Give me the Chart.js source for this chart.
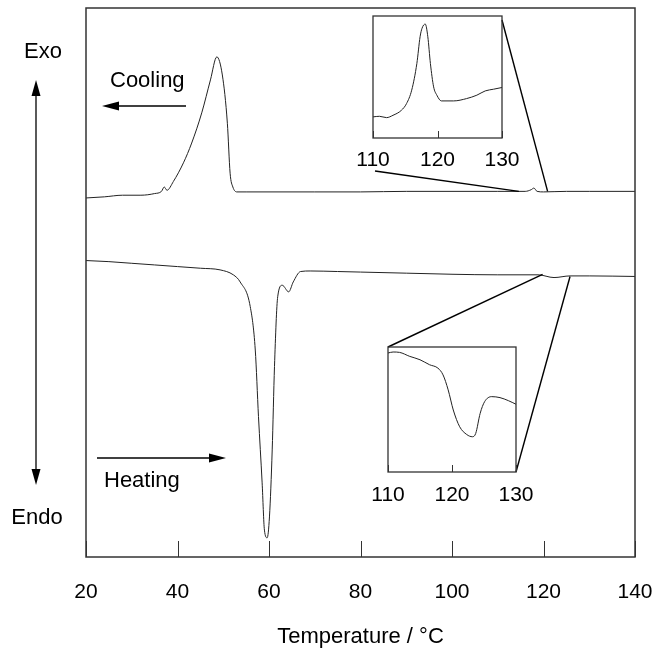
<!DOCTYPE html>
<html>
<head>
<meta charset="utf-8">
<script src="https://cdn.jsdelivr.net/npm/chart.js@4.4.1/dist/chart.umd.min.js"></script>
<style>
  html, body { margin: 0; padding: 0; background: #fff; }
  #wrap { position: relative; width: 656px; height: 656px; }
  canvas { position: absolute; }
</style>
</head>
<body>
<div id="wrap">
  <canvas id="main" width="656" height="656" style="left:0;top:0"></canvas>
  <canvas id="inset-cool" width="200" height="170" style="left:340px;top:10px"></canvas>
  <canvas id="inset-heat" width="200" height="175" style="left:350px;top:340px"></canvas>
</div>
<script>
'use strict';

// ********** data (temperature in °C, heat flow in arbitrary units) **********

let xTicks = [20, 40, 60, 80, 100, 120, 140];
let insetTicks = [110, 120, 130];

let coolTemp = [20, 24, 28, 32, 35, 36.5, 37.1, 37.7, 39.1, 41.3, 43.1, 45.3, 47.2, 48.6, 49.8, 50.9, 51.5, 52.1, 53.0, 55, 60, 70, 80, 90, 100, 110, 116, 117.3, 117.9, 118.6, 120, 125, 130, 140];
let coolFlow = [65.4, 65.6, 65.9, 65.9, 66.2, 66.6, 67.4, 66.8, 68.4, 71.8, 75.4, 80.9, 86.9, 91.1, 87.8, 79.0, 69.9, 67.4, 66.5, 66.5, 66.5, 66.5, 66.5, 66.6, 66.6, 66.6, 66.6, 66.9, 67.2, 66.6, 66.5, 66.6, 66.6, 66.6];

let heatTemp = [20, 25, 30, 35, 40, 45, 49.3, 52.2, 53.7, 55.9, 57.0, 57.7, 58.5, 59.0, 59.6, 60.1, 60.7, 61.2, 61.9, 62.9, 64.3, 65.3, 66.9, 69, 75, 80, 90, 100, 110, 118.8, 122.3, 125.8, 130, 140];
let heatFlow = [54.0, 53.8, 53.5, 53.2, 52.9, 52.6, 52.3, 51.4, 50.1, 45.6, 37.7, 25.6, 13.5, 4.9, 3.5, 7.3, 19.5, 34.7, 47.4, 49.5, 48.3, 50.1, 52.0, 52.1, 52.0, 51.9, 51.7, 51.5, 51.4, 51.4, 50.9, 51.2, 51.2, 51.1];

// zoomed views, 110-130 °C (relative units)
let coolZoomTemp = [110, 111, 112.1, 113.1, 114.4, 115.2, 116, 116.8, 117.3, 117.6, 118.1, 118.5, 118.9, 119.4, 119.9, 120.6, 122.5, 124.5, 126.1, 127.4, 128.7, 130];
let coolZoomFlow = [17.3, 17.8, 16.7, 18.6, 22.7, 28.2, 39.2, 61.1, 83.0, 89.9, 93.4, 83.0, 61.1, 41.9, 35.1, 30.4, 30.4, 32.3, 35.1, 38.6, 40.0, 41.4];

let heatZoomTemp = [110, 110.8, 111.8, 113.4, 115, 116.5, 117.8, 118.6, 119.4, 120.2, 121.2, 122.3, 123.2, 123.7, 124.4, 125.1, 126.2, 127.5, 128.8, 130];
let heatZoomFlow = [95.2, 96.0, 95.7, 92.5, 89.8, 85.8, 83.1, 77.7, 65.7, 49.6, 36.2, 30.0, 28.2, 30.8, 46.9, 56.3, 60.3, 59.5, 57.1, 54.2];

// where the zoom connectors meet the main curves
let coolZoomFrom = [114.6, 120.9];
let heatZoomFrom = [119.8, 125.8];

// ********** helpers **********

const FONT = '"Liberation Sans", Arial, sans-serif';
const INK = '#222';

function toPoints(xs, ys) {
  return xs.map((x, i) => ({ x: x, y: ys[i] }));
}

function curve(xs, ys) {
  return {
    data: toPoints(xs, ys),
    borderColor: INK,
    borderWidth: 1,
    pointRadius: 0,
    fill: false,
    cubicInterpolationMode: 'monotone'
  };
}

function arrowHead(ctx, x, y, dx, dy, len, half) {
  ctx.beginPath();
  ctx.moveTo(x, y);
  ctx.lineTo(x - dx * len - dy * half, y - dy * len + dx * half);
  ctx.lineTo(x - dx * len + dy * half, y - dy * len - dx * half);
  ctx.closePath();
  ctx.fill();
}

// frame round the plot area and ticks pointing inward
const frameTicks = {
  id: 'frameTicks',
  afterDatasetsDraw(chart, args, opts) {
    let ctx = chart.ctx;
    let a = chart.chartArea;
    let x = chart.scales.x;
    ctx.save();
    ctx.strokeStyle = '#333';
    ctx.lineWidth = opts.width;
    ctx.strokeRect(a.left, a.top, a.right - a.left, a.bottom - a.top);
    ctx.lineWidth = 1;
    x.ticks.forEach(t => {
      let px = Math.round(x.getPixelForValue(t.value)) + 0.5;
      ctx.beginPath();
      ctx.moveTo(px, a.bottom);
      ctx.lineTo(px, a.bottom - opts.len);
      ctx.stroke();
    });
    ctx.restore();
  }
};

// labels, arrows and zoom connectors on the main chart
const notes = {
  id: 'notes',
  afterDraw(chart) {
    let ctx = chart.ctx;
    let x = chart.scales.x;
    let y = chart.scales.y;
    ctx.save();
    ctx.fillStyle = '#000';
    ctx.strokeStyle = '#000';
    ctx.font = '22px ' + FONT;
    ctx.textAlign = 'center';
    ctx.textBaseline = 'middle';
    ctx.fillText('Exo', 43, 52);
    ctx.fillText('Endo', 37, 518);
    ctx.textAlign = 'left';
    ctx.fillText('Cooling', 110, 81);
    ctx.fillText('Heating', 104, 481);

    ctx.lineWidth = 1.3;
    // Exo / Endo double arrow
    ctx.beginPath();
    ctx.moveTo(36, 90); ctx.lineTo(36, 475);
    ctx.stroke();
    arrowHead(ctx, 36, 80, 0, -1, 16, 4.5);
    arrowHead(ctx, 36, 485, 0, 1, 16, 4.5);
    // cooling arrow
    ctx.beginPath();
    ctx.moveTo(186, 106); ctx.lineTo(112, 106);
    ctx.stroke();
    arrowHead(ctx, 102, 106, -1, 0, 17, 4.5);
    // heating arrow
    ctx.beginPath();
    ctx.moveTo(97, 458); ctx.lineTo(215, 458);
    ctx.stroke();
    arrowHead(ctx, 226, 458, 1, 0, 17, 4.5);

    // zoom connectors
    ctx.lineWidth = 1.4;
    let cy = y.getPixelForValue(coolFlow[coolFlow.length - 1]);
    let hy = y.getPixelForValue(heatFlow[heatFlow.length - 1]);
    let lines = [
      [375, 171, x.getPixelForValue(coolZoomFrom[0]), cy],
      [502, 20, x.getPixelForValue(coolZoomFrom[1]), cy],
      [388, 347, x.getPixelForValue(heatZoomFrom[0]), hy - 2],
      [516, 472, x.getPixelForValue(heatZoomFrom[1]), hy]
    ];
    lines.forEach(l => {
      ctx.beginPath();
      ctx.moveTo(l[0], l[1]);
      ctx.lineTo(l[2], l[3]);
      ctx.stroke();
    });
    ctx.restore();
  }
};

function xAxis(min, max, ticks, height, pad, title) {
  return {
    type: 'linear',
    min: min,
    max: max,
    afterBuildTicks: s => { s.ticks = ticks.map(v => ({ value: v })); },
    afterFit: s => {
      s.height = height;
      s.paddingLeft = 0;
      s.paddingRight = 0;
    },
    grid: { display: false, drawTicks: false },
    border: { display: false },
    ticks: { padding: pad, color: '#000', maxRotation: 0, font: { size: 21, family: FONT } },
    title: title
  };
}

// ********** main chart **********

new Chart(document.getElementById('main'), {
  type: 'line',
  data: { datasets: [curve(coolTemp, coolFlow), curve(heatTemp, heatFlow)] },
  options: {
    responsive: false,
    animation: false,
    events: [],
    layout: { padding: { left: 86, right: 21, top: 8, bottom: 0 } },
    plugins: { legend: { display: false }, tooltip: { enabled: false }, frameTicks: { width: 1.5, len: 16 } },
    scales: {
      x: xAxis(20, 140, xTicks, 99, 23, {
        display: true,
        text: 'Temperature / °C',
        color: '#000',
        font: { size: 22, family: FONT },
        padding: { top: 0, bottom: 6 }
      }),
      y: { display: false, min: 0, max: 100 }
    }
  },
  plugins: [frameTicks, notes]
});

// ********** insets **********

function makeInset(id, xs, ys, padding, axisHeight, labelPad) {
  return new Chart(document.getElementById(id), {
    type: 'line',
    data: { datasets: [curve(xs, ys)] },
    options: {
      responsive: false,
      animation: false,
      events: [],
      layout: { padding: padding },
      plugins: { legend: { display: false }, tooltip: { enabled: false }, frameTicks: { width: 1.3, len: 7 } },
      scales: {
        x: xAxis(110, 130, insetTicks, axisHeight, labelPad, { display: false }),
        y: { display: false, min: 0, max: 100 }
      }
    },
    plugins: [frameTicks]
  });
}

makeInset('inset-cool', coolZoomTemp, coolZoomFlow, { left: 33, right: 38, top: 6, bottom: 0 }, 42, 10);
makeInset('inset-heat', heatZoomTemp, heatZoomFlow, { left: 38, right: 34, top: 7, bottom: 0 }, 43, 11);
</script>
</body>
</html>
